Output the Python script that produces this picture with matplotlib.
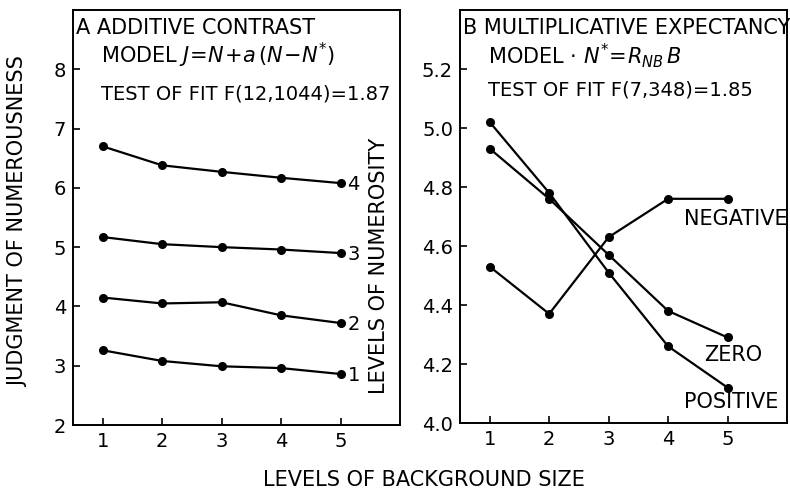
import matplotlib
matplotlib.use("Agg")
import matplotlib.pyplot as plt

plt.rcParams['font.family'] = ['DejaVu Sans']
plt.rcParams['mathtext.fontset'] = 'dejavusans'

# ---- data ----
bg_levels = [1, 2, 3, 4, 5]
numerosity_labels = ["1", "2", "3", "4"]
judg_level1 = [3.26, 3.08, 2.99, 2.96, 2.86]
judg_level2 = [4.15, 4.05, 4.07, 3.85, 3.72]
judg_level3 = [5.17, 5.05, 5.00, 4.96, 4.90]
judg_level4 = [6.70, 6.38, 6.27, 6.17, 6.08]

expect_labels = ["NEGATIVE", "ZERO", "POSITIVE"]
expect_negative = [4.53, 4.37, 4.63, 4.76, 4.76]
expect_zero = [4.93, 4.76, 4.57, 4.38, 4.29]
expect_positive = [5.02, 4.78, 4.51, 4.26, 4.12]

left_yticks = [2, 3, 4, 5, 6, 7, 8]
right_yticks = [4.0, 4.2, 4.4, 4.6, 4.8, 5.0, 5.2]
right_yticklabels = ["4.0", "4.2", "4.4", "4.6", "4.8", "5.0", "5.2"]

W, H = 790, 494
fig = plt.figure(figsize=(W / 100, H / 100), dpi=100)
fig.patch.set_facecolor('white')

axA = fig.add_axes([73 / W, (H - 425) / H, 327 / W, 415 / H])
axB = fig.add_axes([460 / W, (H - 423) / H, 327 / W, 413 / H])

line_kw = dict(color='black', lw=1.6, marker='o', ms=5.5, mfc='black', mec='black')
FS = 15
TFS = 14

# ---- Panel A ----
for vals, lab in zip([judg_level1, judg_level2, judg_level3, judg_level4], numerosity_labels):
    axA.plot(bg_levels, vals, **line_kw)
    axA.annotate(lab, (bg_levels[-1], vals[-1]), xytext=(5, -1), textcoords='offset points',
                 ha='left', va='center', fontsize=TFS)
axA.set_xlim(0.5, 6.0)
axA.set_ylim(2, 9)
axA.set_yticks(left_yticks)
axA.set_xticks(bg_levels)

axA.text(0.01, 0.98, "A ADDITIVE CONTRAST", transform=axA.transAxes, fontsize=FS, va='top', ha='left')
axA.text(0.085, 0.925, r"MODEL $J\!=\!N\!+\!a\,(N\!-\!N^{*})$", transform=axA.transAxes,
         fontsize=FS, va='top', ha='left')
axA.text(0.085, 0.82, "TEST OF FIT F(12,1044)=1.87", transform=axA.transAxes, fontsize=14,
         va='top', ha='left')

# ---- Panel B ----
for vals in [expect_negative, expect_zero, expect_positive]:
    axB.plot(bg_levels, vals, **line_kw)
axB.text(4.26, 4.69, expect_labels[0], fontsize=FS, ha='left', va='center')
axB.text(4.61, 4.23, expect_labels[1], fontsize=FS, ha='left', va='center')
axB.text(4.26, 4.07, expect_labels[2], fontsize=FS, ha='left', va='center')
axB.set_xlim(0.5, 6.0)
axB.set_ylim(4.0, 5.4)
axB.set_yticks(right_yticks)
axB.set_yticklabels(right_yticklabels)
axB.set_xticks(bg_levels)

axB.text(0.01, 0.98, "B MULTIPLICATIVE EXPECTANCY", transform=axB.transAxes, fontsize=FS, va='top', ha='left')
axB.text(0.085, 0.925, r"MODEL $\cdot$ $N^{*}\!=\!R_{NB}\,B$", transform=axB.transAxes,
         fontsize=FS, va='top', ha='left')
axB.text(0.085, 0.83, "TEST OF FIT F(7,348)=1.85", transform=axB.transAxes, fontsize=14,
         va='top', ha='left')

for ax in (axA, axB):
    for s in ax.spines.values():
        s.set_linewidth(1.4)
        s.set_color('black')
    ax.tick_params(direction='in', length=5, width=1.2, labelsize=TFS, pad=5, colors='black')

fig.text(18 / W, 1 - 222 / H, "JUDGMENT OF NUMEROUSNESS", rotation=90, ha='center', va='center', fontsize=FS)
fig.text(379 / W, 1 - 266 / H, "LEVELS OF NUMEROSITY", rotation=90, ha='center', va='center', fontsize=FS)
fig.text(424 / W, 1 - 480 / H, "LEVELS OF BACKGROUND SIZE", ha='center', va='center', fontsize=FS)

fig.savefig("out.png", dpi=100, facecolor='white')
